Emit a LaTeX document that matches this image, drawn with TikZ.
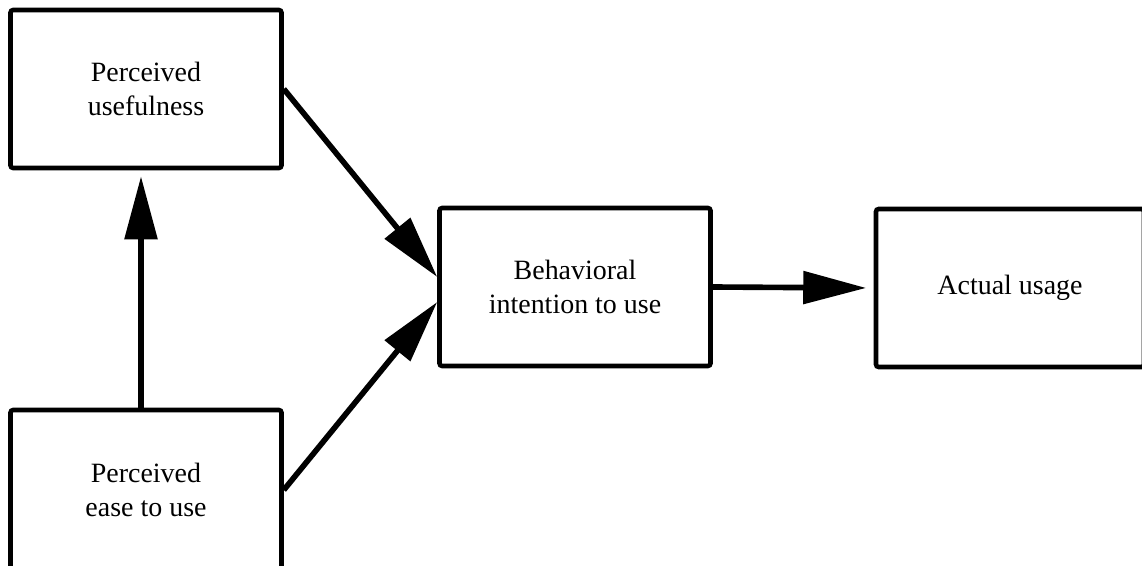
\documentclass[tikz,border=0pt]{standalone}
\usepackage{fontspec}
\setmainfont{Liberation Serif}
\usepackage{tikz}
\usetikzlibrary{arrows.meta,positioning,calc}

\begin{document}
\begin{tikzpicture}[
        every node/.style={font=\fontsize{15.9pt}{19.3pt}\selectfont},
        box/.style={draw, line width=2.6pt, rounded corners=1.5pt, align=center,
            minimum width=5.42cm, minimum height=3.16cm},
        arr/.style={line width=3.2pt, -{Triangle[length=1.26cm, width=0.64cm]}}]
        \useasboundingbox (0,0) rectangle (22.84,-11.32);
        % Boxes
        \node[box] (useful) at (2.92,-1.78) {Perceived\\usefulness};
        \node[box, minimum height=3.2cm] (ease) at (2.92,-9.80) {Perceived\\ease to use};
        \node[box] (behav) at (11.50,-5.74) {Behavioral\\intention to use};
        \node[box, minimum width=5.36cm] (actual) at (20.20,-5.76) {\raisebox{-0.1cm}{Actual usage}};
        % Arrows
        \draw[arr, shorten >=0.12cm] ([xshift=-0.1cm]ease.north) -- ([xshift=-0.1cm]useful.south);
        \draw[arr] (useful.east) -- ([yshift=0.2cm]behav.west);
        \draw[arr] (ease.east) -- ([yshift=-0.3cm]behav.west);
        \draw[arr, shorten >=0.15cm] (behav.east) -- (actual.west);
\end{tikzpicture}
\end{document}
